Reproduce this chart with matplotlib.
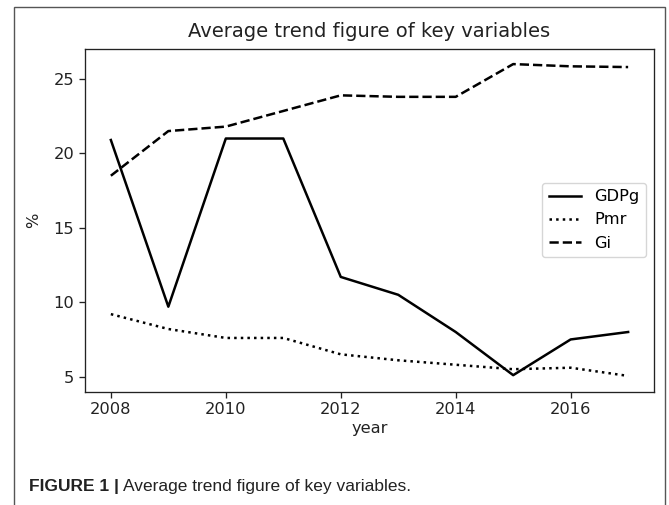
import matplotlib
matplotlib.use("Agg")
import matplotlib.pyplot as plt
from matplotlib.patches import Rectangle
from matplotlib import font_manager

# data
years = [2008, 2009, 2010, 2011, 2012, 2013, 2014, 2015, 2016, 2017]
gdpg = [20.9, 9.7, 21.0, 21.0, 11.7, 10.5, 8.0, 5.1, 7.5, 8.0]
pmr = [9.2, 8.2, 7.6, 7.6, 6.5, 6.1, 5.8, 5.5, 5.6, 5.05]
gi = [18.5, 21.5, 21.8, 22.85, 23.9, 23.8, 23.8, 26.0, 25.85, 25.8]
x_ticks = [2008, 2010, 2012, 2014, 2016]
y_ticks = [5, 10, 15, 20, 25]

fig = plt.figure(figsize=(6.69, 5.05), dpi=100)
ax = fig.add_axes([85 / 669, 1 - 391.5 / 505, (654 - 85) / 669, (391.5 - 48.5) / 505])

lw = 1.8
ax.plot(years, gdpg, color="black", linestyle="-", linewidth=lw, label="GDPg")
ax.plot(years, pmr, color="black", linestyle=":", linewidth=lw, label="Pmr")
ax.plot(years, gi, color="black", linestyle="--", linewidth=lw, label="Gi")

ax.set_xticks(x_ticks)
ax.set_yticks(y_ticks)
ax.tick_params(labelsize=11.7, length=4.2, width=0.95, colors="#222222")
for s in ax.spines.values():
    s.set_linewidth(0.95)
    s.set_color("#222222")

ax.set_title("Average trend figure of key variables", fontsize=14, color="#222222", pad=8)
ax.set_xlabel("year", fontsize=11.7, color="#222222", labelpad=3)
ax.set_ylabel("%", fontsize=11.7, color="#222222", labelpad=9)

leg = ax.legend(loc="center right", fontsize=11.7, handlelength=2.0)
leg.get_frame().set_edgecolor("#cccccc")

# outer frame of the figure panel
fig.patches.append(Rectangle((14 / 669, -0.05), (665 - 14) / 669, 1.05 - 6.5 / 505,
                             transform=fig.transFigure, fill=False,
                             edgecolor="#555555", linewidth=1.0))

# caption
names = {f.name for f in font_manager.fontManager.ttflist}
cap_font = ["Liberation Sans Narrow", "Liberation Sans"] if "Liberation Sans Narrow" in names else ["Liberation Sans"]
cap_size = 13 if "Narrow" in cap_font[0] else 12.5
t1 = fig.text(29 / 669, 1 - 491 / 505, "FIGURE 1 |", fontsize=cap_size, fontweight="bold",
              family=cap_font, color="#222222", va="baseline")
fig.canvas.draw()
bb = t1.get_window_extent()
fig.text(bb.x1 / fig.bbox.width + 4 / 669, 1 - 491 / 505, "Average trend figure of key variables.",
         fontsize=cap_size, family=cap_font, color="#222222", va="baseline")

fig.savefig("out.png", dpi=100)
